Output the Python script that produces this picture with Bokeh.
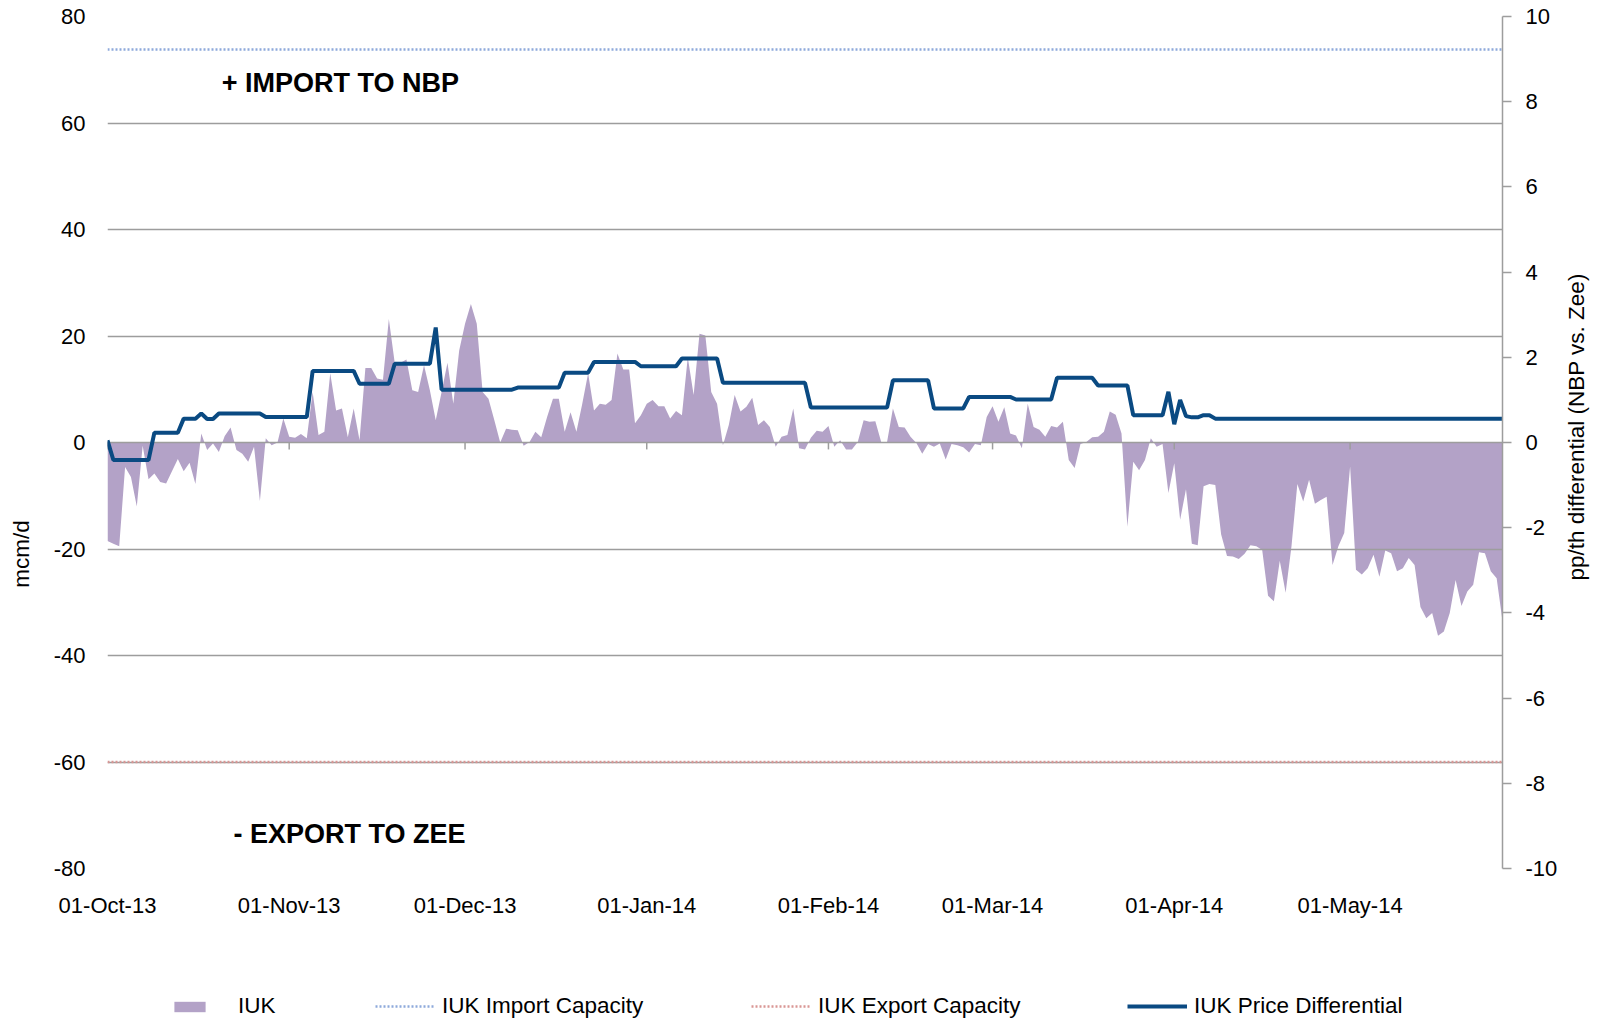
import math
import pandas as pd
from bokeh.plotting import figure
from bokeh.layouts import row, column
from bokeh.models import (Range1d, LinearAxis, FixedTicker, MonthsTicker,
                          DatetimeTickFormatter, PrintfTickFormatter, Label,
                          Legend, LegendItem)
from bokeh.embed import file_html
from bokeh.resources import INLINE

# ---------------- data ----------------
start_date = "2013-10-01"

iuk_flow = [
    -18.5, -19.0, -19.5, -4.6, -6.5, -12.0, -0.6, -6.9, -5.8, -7.4,
    -7.7, -5.4, -3.1, -5.4, -3.8, -7.8, 1.7, -1.4, -0.2, -1.8,
    1.2, 2.8, -1.4, -2.1, -3.6, -0.8, -11.0, 0.8, -0.5, 0.0,
    4.5, 1.1, 0.9, 1.6, 0.8, 9.5, 1.4, 2.0, 13.0, 6.0,
    6.4, 1.0, 6.4, 0.4, 14.0, 14.0, 12.0, 11.8, 23.2, 15.0,
    15.0, 15.6, 9.8, 9.5, 14.5, 9.8, 4.2, 9.5, 15.0, 7.3,
    17.3, 22.3, 26.0, 22.3, 9.5, 8.2, 4.2, 0.0, 2.6, 2.4,
    2.3, -0.6, 0.1, 2.0, 1.0, 4.8, 8.2, 8.2, 2.0, 5.7,
    2.0, 7.3, 13.0, 6.0, 7.3, 7.1, 8.0, 16.7, 13.7, 13.7,
    3.6, 5.1, 7.3, 8.0, 6.8, 6.8, 4.5, 5.9, 5.1, 16.0,
    8.9, 20.4, 20.1, 9.5, 7.3, -0.5, 3.3, 8.9, 5.8, 6.7,
    8.4, 3.3, 4.2, 2.9, -0.8, 1.1, 1.4, 6.4, -1.1, -1.3,
    0.9, 2.2, 2.0, 3.1, -0.8, 0.4, -1.3, -1.3, 0.1, 4.2,
    3.9, 4.0, 0.1, 0.1, 6.4, 2.9, 2.8, 1.1, -0.1, -2.1,
    -0.3, -0.8, -0.2, -3.2, -0.3, -0.5, -0.9, -1.9, -0.3, -0.5,
    4.8, 6.8, 3.9, 6.6, 1.7, 1.3, -1.1, 7.3, 2.9, 2.4,
    1.1, 3.1, 2.8, 3.9, -3.3, -4.8, -0.3, 0.1, 1.0, 1.1,
    2.0, 5.8, 5.2, 1.7, -15.8, -3.6, -5.2, -3.3, 0.8, -0.8,
    -0.3, -9.5, -3.9, -14.5, -8.8, -19.0, -19.3, -8.2, -7.8, -8.0,
    -17.3, -21.3, -21.4, -21.9, -20.9, -19.3, -19.5, -20.2, -28.8, -29.8,
    -22.2, -28.2, -19.5, -7.8, -11.1, -7.0, -11.5, -10.8, -10.2, -23.0,
    -19.5, -17.0, -4.5, -23.9, -24.8, -23.6, -21.1, -25.2, -20.3, -20.8,
    -24.2, -23.6, -21.7, -23.0, -30.9, -33.0, -32.0, -36.3, -35.5, -32.0,
    -25.8, -30.7, -28.0, -26.7, -20.6, -20.8, -24.2, -25.5, -33.5,
]

price_diff = [
    0.05, -0.41, -0.41, -0.41, -0.41, -0.41, -0.41, -0.41, 0.23, 0.23,
    0.23, 0.23, 0.23, 0.56, 0.56, 0.56, 0.68, 0.55, 0.55, 0.68,
    0.68, 0.68, 0.68, 0.68, 0.68, 0.68, 0.68, 0.60, 0.60, 0.60,
    0.60, 0.60, 0.60, 0.60, 0.60, 1.68, 1.68, 1.68, 1.68, 1.68,
    1.68, 1.68, 1.68, 1.38, 1.38, 1.38, 1.38, 1.38, 1.38, 1.85,
    1.85, 1.85, 1.85, 1.85, 1.85, 1.85, 2.70, 1.24, 1.24, 1.24,
    1.24, 1.24, 1.24, 1.24, 1.24, 1.24, 1.24, 1.24, 1.24, 1.24,
    1.29, 1.29, 1.29, 1.29, 1.29, 1.29, 1.29, 1.29, 1.64, 1.64,
    1.64, 1.64, 1.64, 1.89, 1.89, 1.89, 1.89, 1.89, 1.89, 1.89,
    1.89, 1.79, 1.79, 1.79, 1.79, 1.79, 1.79, 1.79, 1.97, 1.97,
    1.97, 1.97, 1.97, 1.97, 1.97, 1.40, 1.40, 1.40, 1.40, 1.40,
    1.40, 1.40, 1.40, 1.40, 1.40, 1.40, 1.40, 1.40, 1.40, 1.40,
    0.82, 0.82, 0.82, 0.82, 0.82, 0.82, 0.82, 0.82, 0.82, 0.82,
    0.82, 0.82, 0.82, 0.82, 1.46, 1.46, 1.46, 1.46, 1.46, 1.46,
    1.46, 0.80, 0.80, 0.80, 0.80, 0.80, 0.80, 1.07, 1.07, 1.07,
    1.07, 1.07, 1.07, 1.07, 1.07, 1.01, 1.01, 1.01, 1.01, 1.01,
    1.01, 1.01, 1.52, 1.52, 1.52, 1.52, 1.52, 1.52, 1.52, 1.34,
    1.34, 1.34, 1.34, 1.34, 1.34, 0.64, 0.64, 0.64, 0.64, 0.64,
    0.64, 1.19, 0.43, 1.00, 0.62, 0.59, 0.59, 0.64, 0.64, 0.56,
    0.56, 0.56, 0.56, 0.56, 0.56, 0.56, 0.56, 0.56, 0.56, 0.56,
    0.56, 0.56, 0.56, 0.56, 0.56, 0.56, 0.56, 0.56, 0.56, 0.56,
    0.56, 0.56, 0.56, 0.56, 0.56, 0.56, 0.56, 0.56, 0.56, 0.56,
    0.56, 0.56, 0.56, 0.56, 0.56, 0.56, 0.56, 0.56, 0.56, 0.56,
    0.56, 0.56, 0.56, 0.56, 0.56, 0.56, 0.56, 0.56, 0.56,
]

import_capacity = 73.8
export_capacity = -60.0

left_ticks = [-80, -60, -40, -20, 0, 20, 40, 60, 80]
right_ticks = [-10, -8, -6, -4, -2, 0, 2, 4, 6, 8, 10]

series_names = ["IUK", "IUK Import Capacity", "IUK Export Capacity",
                "IUK Price Differential"]

# ---------------- helpers ----------------
t0 = pd.Timestamp(start_date)
dates = pd.date_range(start_date, periods=len(iuk_flow), freq="D")
month_starts = pd.date_range(start_date, dates[-1], freq="MS")
import_line = [import_capacity] * len(dates)
export_line = [export_capacity] * len(dates)


def day_ms(d):
    return (t0 + pd.Timedelta(days=d)).value / 1e6


FONT = "Liberation Sans"
TICK_FS = "22px"
TEXT_FS = "22.5px"
GRID = "#9D9D9D"
AREA = "#B3A2C7"
LINE = "#0A4A82"
IMP = "#8EA9DB"
EXP = "#D99694"

TOP_H = 924
LEG_H = 94
LW, MW, RW = 40, 1520, 30

AREA_STYLE = dict(fill_color=AREA)
IMP_STYLE = dict(line_color=IMP, line_width=2.5, line_dash="2 2")
EXP_STYLE = dict(line_color=EXP, line_width=2.5, line_dash="2 2")
PD_STYLE = dict(line_color=LINE, line_width=4)


def blank_fig(w, h):
    f = figure(width=w, height=h, output_backend="svg", toolbar_location=None,
               x_range=Range1d(0, w), y_range=Range1d(0, h), min_border=0,
               x_axis_location=None, y_axis_location=None)
    f.grid.visible = False
    f.outline_line_color = None
    return f


# ---------------- main chart ----------------
p = figure(width=MW, height=TOP_H, x_axis_type="datetime",
           output_backend="svg", toolbar_location=None,
           x_range=Range1d(dates[0], dates[-1]), y_range=Range1d(-80, 80),
           min_border_left=67, min_border_right=57, min_border_top=16,
           min_border_bottom=TOP_H - 868)
p.outline_line_color = None
p.extra_y_ranges = {"pp": Range1d(-10, 10)}

p.xgrid.visible = False
p.ygrid.ticker = FixedTicker(ticks=left_ticks)
p.ygrid.grid_line_color = GRID
p.ygrid.grid_line_width = 1.5

p.varea(x=dates, y1=0, y2=iuk_flow, level="image", **AREA_STYLE)
p.line(dates, import_line, **IMP_STYLE)
p.line(dates, export_line, **EXP_STYLE)
p.segment(x0=month_starts, y0=0, x1=month_starts, y1=-1.3,
          line_color=GRID, line_width=1.5)
p.line(dates, price_diff, y_range_name="pp", **PD_STYLE)

xa = p.xaxis[0]
xa.ticker = MonthsTicker(months=list(range(12)))
fmt = "%d-%b-%y"
xa.formatter = DatetimeTickFormatter(days=fmt, months=fmt, years=fmt)
xa.axis_line_color = None
xa.major_tick_line_color = None
xa.minor_tick_line_color = None
xa.major_tick_out = 0
xa.major_tick_in = 0
xa.major_label_standoff = 24
xa.major_label_text_font = FONT
xa.major_label_text_font_size = TICK_FS
xa.major_label_text_color = "black"

ya = p.yaxis[0]
ya.ticker = FixedTicker(ticks=left_ticks)
ya.formatter = PrintfTickFormatter(format="%d")
ya.axis_line_color = None
ya.major_tick_line_color = None
ya.minor_tick_line_color = None
ya.major_tick_out = 0
ya.major_tick_in = 0
ya.major_label_standoff = 22
ya.major_label_text_font = FONT
ya.major_label_text_font_size = TICK_FS
ya.major_label_text_color = "black"

ra = LinearAxis(y_range_name="pp", ticker=FixedTicker(ticks=right_ticks),
                formatter=PrintfTickFormatter(format="%d"))
ra.axis_line_color = GRID
ra.axis_line_width = 1.5
ra.major_tick_line_color = GRID
ra.major_tick_line_width = 1.5
ra.major_tick_in = 0
ra.major_tick_out = 9
ra.minor_tick_line_color = None
ra.major_label_standoff = 14
ra.major_label_text_font = FONT
ra.major_label_text_font_size = TICK_FS
ra.major_label_text_color = "black"
p.add_layout(ra, "right")

common = dict(text_font=FONT, text_color="black")
p.add_layout(Label(x=day_ms(19.5), y=67.5, text="+ IMPORT TO NBP",
                   text_font_style="bold", text_font_size="27px",
                   text_align="left", text_baseline="alphabetic", **common))
p.add_layout(Label(x=day_ms(21.5), y=-73.6, text="- EXPORT TO ZEE",
                   text_font_style="bold", text_font_size="27px",
                   text_align="left", text_baseline="alphabetic", **common))

# ---------------- axis titles (side strips) ----------------
lt = blank_fig(LW, TOP_H)
lt.add_layout(Label(x=20.7, y=TOP_H - 583, text="mcm/d", angle=math.pi / 2,
                    text_align="center", text_baseline="middle",
                    text_font_size=TEXT_FS, **common))

rt = blank_fig(RW, TOP_H)
rt.add_layout(Label(x=16, y=TOP_H - 445, text="pp/th differential (NBP vs. Zee)",
                    angle=math.pi / 2, text_align="center",
                    text_baseline="middle", text_font_size=TEXT_FS, **common))

# ---------------- legend strip ----------------
# legend keys reuse the series (they fall outside this strip's ranges)
lf = blank_fig(LW + MW + RW, LEG_H)
k_area = lf.varea(x=dates, y1=0, y2=iuk_flow, **AREA_STYLE)
k_imp = lf.line(dates, import_line, **IMP_STYLE)
k_exp = lf.line(dates, export_line, **EXP_STYLE)
k_pd = lf.line(dates, price_diff, **PD_STYLE)


def add_legend(label, rend, x, gw, gh, standoff):
    lg = Legend(items=[LegendItem(label=label, renderers=[rend])],
                location=(x, -1), orientation="horizontal",
                border_line_color=None, background_fill_alpha=0,
                padding=0, margin=0, spacing=0,
                glyph_width=gw, glyph_height=gh, label_standoff=standoff,
                label_text_font=FONT, label_text_font_size=TEXT_FS,
                label_text_color="black", label_height=22)
    lf.add_layout(lg, "center")


add_legend(series_names[0], k_area, 170, 39, 13, 29)
add_legend(series_names[1], k_imp, 375, 60, 22, 7)
add_legend(series_names[2], k_exp, 751, 60, 22, 7)
add_legend(series_names[3], k_pd, 1127, 60, 22, 7)

layout = column(row(lt, p, rt, spacing=0), lf, spacing=0)
open("out.html", "w").write(file_html(layout, INLINE))
